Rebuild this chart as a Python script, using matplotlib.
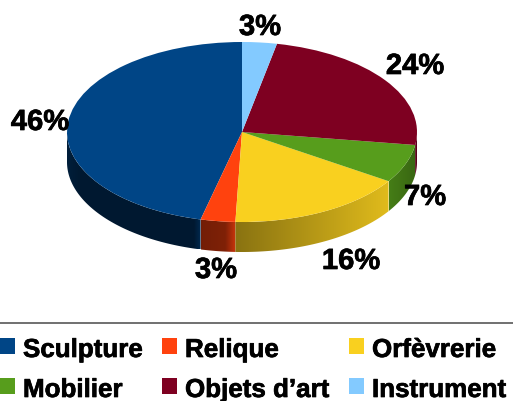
import numpy as np
import matplotlib
matplotlib.use('Agg')
import matplotlib.pyplot as plt
import matplotlib.patheffects as pe
from matplotlib.patches import Rectangle, Polygon
from matplotlib.lines import Line2D

plt.rcParams['font.family'] = ['Liberation Sans', 'DejaVu Sans']

categories = ['Sculpture', 'Relique', 'Orfèvrerie', 'Mobilier', 'Objets d’art', 'Instrument']
values = [46.2, 3.2, 16.4, 6.9, 24.1, 3.2]
pct_labels = [46, 3, 16, 7, 24, 3]
colors = ['#004586', '#ff420e', '#f9d01f', '#579d1c', '#7e0021', '#83caff']
# wall brightness along each slice, left to right
wall_t = [[0, 0.1, 0.95, 1], [0, 0.7, 1], [0, 1], [0, 1], [0, 1], [0, 1]]
wall_f = [[0.44, 0.36, 0.36, 0.6], [0.45, 0.5, 0.8], [0.55, 0.9], [0.8, 0.65], [0.7, 0.7], [0.5, 0.5]]

W, H = 513, 402
CX, CY, RX, RY, DEPTH = 242, 133, 175, 90, 30

fig = plt.figure(figsize=(W / 100, H / 100), dpi=100)
ax = fig.add_axes([0, 0, 1, 1])

ax.pie(values, colors=colors, startangle=90, counterclock=True, radius=1,
       wedgeprops={'linewidth': 0, 'zorder': 3})

# side wall, a horizontal gradient clipped to the slice's outline
depth = DEPTH / RY
edges = np.cumsum([0] + values) / sum(values) * 2 * np.pi + np.pi / 2
for i, col in enumerate(colors):
    a0 = max(edges[i], np.pi)
    a1 = min(edges[i + 1], 2 * np.pi)
    if a1 <= a0:
        continue
    ang = np.linspace(a0, a1, 200)
    xs = np.cos(ang)
    ys = np.sin(ang)
    outline = np.vstack([np.column_stack([xs, ys]),
                         np.column_stack([xs[::-1], ys[::-1] - depth])])
    poly = Polygon(outline, closed=True, facecolor='none', edgecolor='none',
                   transform=ax.transData)
    ax.add_patch(poly)
    t = np.linspace(0, 1, 256)
    f = np.interp(t, wall_t[i], wall_f[i])
    grad = (np.array(matplotlib.colors.to_rgb(col))[None, :] * f[:, None])[None, :, :]
    im = ax.imshow(grad, extent=[xs[0], xs[-1], ys.min() - depth, ys.max()],
                   aspect='auto', zorder=2, interpolation='bilinear')
    im.set_clip_path(poly)

ax.set_aspect('auto')
ax.set_xlim(-CX / RX, (W - CX) / RX)
ax.set_ylim(-(H - CY) / RY, CY / RY)
ax.axis('off')

thick = [pe.withStroke(linewidth=0.5, foreground='black')]

# value labels
label_pos = [(40, 123), (216, 271), (351, 262), (425, 198), (415, 67), (260, 28)]
for v, (px, py) in zip(pct_labels, label_pos):
    fig.text(px / W, 1 - py / H, '%d%%' % v, fontsize=21, fontweight='bold',
             ha='center', va='center', color='black', path_effects=thick)

# separator and legend
fig.add_artist(Line2D([0, 1], [1 - 324 / H] * 2, color='#707070', linewidth=1.4))
swatch_x = [0, 162, 349, 0, 162, 349]
swatch_y = [339, 339, 339, 379, 379, 379]
for name, col, sx, sy in zip(categories, colors, swatch_x, swatch_y):
    fig.add_artist(Rectangle((sx / W, 1 - (sy + 16) / H), 15 / W, 16 / H,
                             facecolor=col, edgecolor='none',
                             transform=fig.transFigure))
    fig.text((sx + 23) / W, 1 - (sy + 12) / H, name, fontsize=18.7,
             fontweight='bold', ha='left', va='center', color='black',
             path_effects=thick)

fig.savefig('out.png', dpi=100)
